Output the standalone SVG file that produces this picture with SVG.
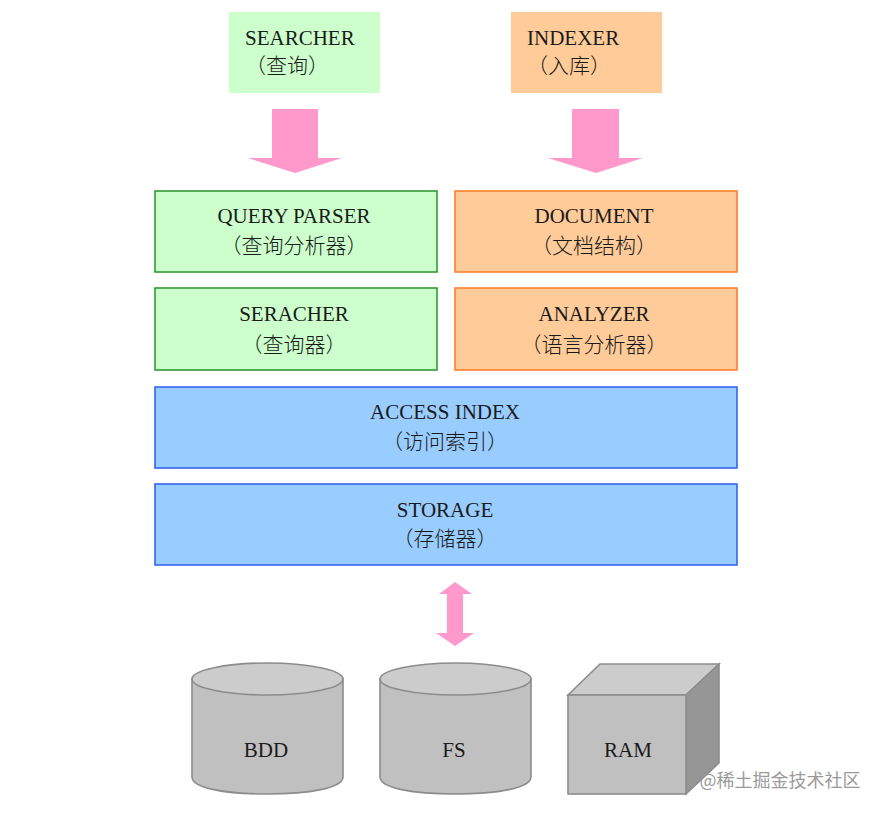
<svg xmlns="http://www.w3.org/2000/svg" width="882" height="813" viewBox="0 0 882 813">
<style>
text{font-family:"Liberation Serif","Noto Sans CJK SC",serif;font-size:21px;fill:#1a1a1a;text-anchor:middle}
.cn{font-family:"Noto Sans CJK SC",sans-serif;font-size:21px;font-weight:300}
.l{text-anchor:start}
.gr{fill:#ccffcc;stroke:#339933;stroke-width:1.600}
.or{fill:#ffcc99;stroke:#ff7f2a;stroke-width:1.600}
.bl{fill:#99ccff;stroke:#3366ee;stroke-width:1.600}
.arrow{fill:#ff99cc}
.side{fill:#c0c0c0;stroke:#8c8c8c;stroke-width:1.600}
.top{fill:#cccccc;stroke:#8c8c8c;stroke-width:1.600}
.dark{fill:#969696;stroke:#8c8c8c;stroke-width:1.600}
</style>
<rect width="882" height="813" fill="#fff"/>
<g id="connectors">
<path class="arrow" d="M272 109H318V158H342L295 173L248 158H272Z"/>
<path class="arrow" d="M572 109H619V158H643L596 173L548 158H572Z"/>
<path class="arrow" d="M455 582L472 594H463V633H474L455 646L436 633H447V594H439Z"/>
</g>
<g id="searcher"><rect x="229" y="12" width="151" height="81" fill="#ccffcc"/><text class="l" x="245" y="45">SEARCHER</text><text class="cn l" x="245" y="73">（查询）</text></g>
<g id="indexer"><rect x="511" y="12" width="151" height="81" fill="#ffcc99"/><text class="l" x="527" y="45">INDEXER</text><text class="cn l" x="527" y="73">（入库）</text></g>
<g id="query-parser"><rect class="gr" x="155" y="191" width="282" height="81"/><text x="294" y="223">QUERY PARSER</text><text class="cn" x="294" y="253">（查询分析器）</text></g>
<g id="document"><rect class="or" x="455" y="191" width="282" height="81"/><text x="594" y="223">DOCUMENT</text><text class="cn" x="594" y="253">（文档结构）</text></g>
<g id="seracher"><rect class="gr" x="155" y="288" width="282" height="82"/><text x="294" y="321">SERACHER</text><text class="cn" x="294" y="352">（查询器）</text></g>
<g id="analyzer"><rect class="or" x="455" y="288" width="282" height="82"/><text x="594" y="321">ANALYZER</text><text class="cn" x="594" y="352">（语言分析器）</text></g>
<g id="access-index"><rect class="bl" x="155" y="387" width="582" height="81"/><text x="445" y="419">ACCESS INDEX</text><text class="cn" x="445" y="449">（访问索引）</text></g>
<g id="storage"><rect class="bl" x="155" y="484" width="582" height="81"/><text x="445" y="517">STORAGE</text><text class="cn" x="445" y="546">（存储器）</text></g>
<g id="bdd"><path class="side" d="M192 679V777C192 788 225 794 267 794S343 788 343 777V679Z"/><ellipse class="top" cx="267.500" cy="679" rx="75.500" ry="16"/><text x="266" y="757">BDD</text></g>
<g id="fs"><path class="side" d="M380 679V777C380 788 413 794 455 794S531 788 531 777V679Z"/><ellipse class="top" cx="455.500" cy="679" rx="75.500" ry="16"/><text x="454" y="757">FS</text></g>
<g id="ram"><path class="top" d="M568 695L600 664H719L686 695Z"/><path class="dark" d="M686 695L719 664V763L686 794Z"/><rect class="side" x="568" y="695" width="118" height="99"/><text x="628" y="757">RAM</text></g>
<text x="780" y="787" style="font-family:'Noto Sans CJK SC',sans-serif;font-size:18px;fill:#9a9a9a">@稀土掘金技术社区</text>
</svg>
